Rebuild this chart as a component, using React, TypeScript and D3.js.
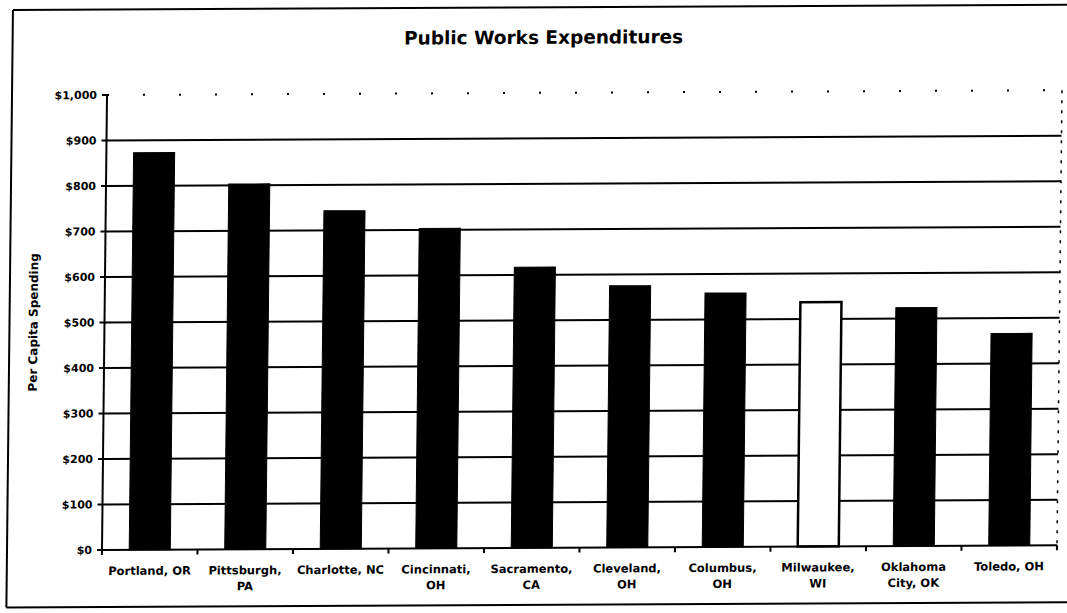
import React from "react";
import * as d3 from "d3";

const categories = [
  "Portland, OR",
  "Pittsburgh, PA",
  "Charlotte, NC",
  "Cincinnati, OH",
  "Sacramento, CA",
  "Cleveland, OH",
  "Columbus, OH",
  "Milwaukee, WI",
  "Oklahoma City, OK",
  "Toledo, OH",
];
const labelLines = [
  ["Portland, OR"],
  ["Pittsburgh,", "PA"],
  ["Charlotte, NC"],
  ["Cincinnati,", "OH"],
  ["Sacramento,", "CA"],
  ["Cleveland,", "OH"],
  ["Columbus,", "OH"],
  ["Milwaukee,", "WI"],
  ["Oklahoma", "City, OK"],
  ["Toledo, OH"],
];
const perCapitaSpending = [873, 803, 743, 703, 617, 575, 558, 537, 524, 466];
const highlighted = "Milwaukee, WI";
const yTicks = [0, 100, 200, 300, 400, 500, 600, 700, 800, 900, 1000];
const title = "Public Works Expenditures";
const yTitle = "Per Capita Spending";

const W = 1067;
const H = 613;
const FONT = "'DejaVu Sans', 'Liberation Sans', Arial, sans-serif";

export default function App() {
  const left = 102, right = 1057, top = 95, bottom = 550;
  const x = d3
    .scaleBand<string>()
    .domain(categories)
    .range([left, right])
    .paddingInner(0.57)
    .paddingOuter(0.285);
  const y = d3.scaleLinear().domain([0, 1000]).range([bottom, top]);
  const fmt = d3.format("$,.0f");
  const step = x.step();
  const boundaries = d3.range(categories.length + 1).map((i) => left + i * step);

  // slight scan skew of the original picture
  const kx = -0.011, ky = -0.005;
  const transform = `matrix(1,${ky},${kx},1,${-kx * bottom},${-ky * left})`;

  return (
    <svg
      width={W}
      height={H}
      style={{ position: "absolute", left: 0, top: 0, background: "#fff" }}
      fontFamily={FONT}
    >
      <rect x={0} y={0} width={W} height={H} fill="#fff" />
      <g transform={transform}>
        {/* outer chart border (right edge lies outside the picture) */}
        <line x1={7} x2={1120} y1={9.5} y2={9.5} stroke="#000" strokeWidth={2} />
        <line x1={7} x2={7} y1={9.5} y2={607} stroke="#000" strokeWidth={2} />
        <line x1={7} x2={1120} y1={607} y2={607} stroke="#000" strokeWidth={2} />

        <text x={538} y={46} textAnchor="middle" fontWeight="bold" fontSize={18.5} fill="#000">
          {title}
        </text>

        {/* gridlines */}
        {yTicks.filter((t) => t > 0 && t < 1000).map((t) => (
          <line key={t} x1={left} x2={right} y1={y(t)} y2={y(t)} stroke="#000" strokeWidth={2} />
        ))}
        <line x1={left} x2={right} y1={y(1000)} y2={y(1000)} stroke="#000" strokeWidth={2} strokeDasharray="2 34" />
        <line x1={right} x2={right} y1={y(1000)} y2={bottom} stroke="#000" strokeWidth={1.5} strokeDasharray="3 7" />

        {/* bars */}
        {categories.map((c, i) => {
          const v = perCapitaSpending[i];
          const hi = c === highlighted;
          return (
            <rect
              key={c}
              x={x(c)}
              y={y(v)}
              width={x.bandwidth()}
              height={y(0) - y(v)}
              fill={hi ? "#fff" : "#000"}
              stroke="#000"
              strokeWidth={hi ? 2.5 : 1}
            />
          );
        })}

        {/* y axis */}
        <line x1={left} x2={left} y1={top} y2={bottom} stroke="#000" strokeWidth={2} />
        {yTicks.map((t) => (
          <g key={t}>
            <line x1={left - 5} x2={left} y1={y(t)} y2={y(t)} stroke="#000" strokeWidth={2} />
            <text
              x={left - 10}
              y={y(t)}
              dy="0.36em"
              textAnchor="end"
              fontWeight="bold"
              fontSize={11}
              fill="#000"
            >
              {fmt(t)}
            </text>
          </g>
        ))}
        <text
          transform={`translate(35,322) rotate(-90)`}
          textAnchor="middle"
          fontWeight="bold"
          fontSize={12}
          fill="#000"
        >
          {yTitle}
        </text>

        {/* x axis */}
        <line x1={left} x2={right} y1={bottom} y2={bottom} stroke="#000" strokeWidth={2} />
        {boundaries.map((b, i) => (
          <line key={i} x1={b} x2={b} y1={bottom} y2={bottom + 5} stroke="#000" strokeWidth={2} />
        ))}
        {categories.map((c, i) => (
          <text
            key={c}
            x={(x(c) as number) + x.bandwidth() / 2}
            y={575}
            textAnchor="middle"
            fontWeight="bold"
            fontSize={11.5}
            fill="#000"
          >
            {labelLines[i].map((ln, j) => (
              <tspan key={j} x={(x(c) as number) + x.bandwidth() / 2} dy={j === 0 ? 0 : 16}>
                {ln}
              </tspan>
            ))}
          </text>
        ))}
      </g>
    </svg>
  );
}
